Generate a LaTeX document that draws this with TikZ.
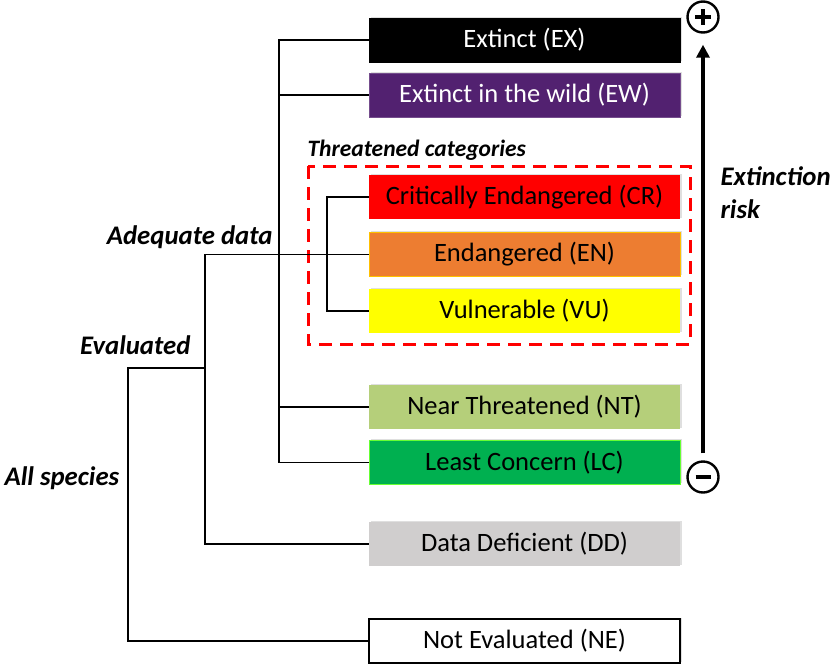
\documentclass[tikz,border=0pt]{standalone}
\usepackage{fontspec}
\setmainfont{Carlito}
\usetikzlibrary{arrows.meta,shadows,calc}

\definecolor{exblack}{RGB}{0,0,0}
\definecolor{ewpurple}{RGB}{82,33,112}
\definecolor{crred}{RGB}{255,0,0}
\definecolor{enorange}{RGB}{237,125,49}
\definecolor{enborder}{RGB}{255,192,0}
\definecolor{vuyellow}{RGB}{255,255,0}
\definecolor{ntgreen}{RGB}{181,207,122}
\definecolor{lcgreen}{RGB}{0,176,80}
\definecolor{lcborder}{RGB}{102,255,51}
\definecolor{ddgrey}{RGB}{208,206,206}

\tikzset{
  catbox/.style={minimum width=311pt, minimum height=44pt, inner sep=0pt,
    font=\fontsize{26.5}{30}\selectfont,
    drop shadow={opacity=0.25, shadow xshift=1.5pt, shadow yshift=1.5pt}},
  branch/.style={line width=1.8pt},
  grouplabel/.style={font=\fontsize{26.8}{33}\selectfont\bfseries\itshape},
  signcircle/.style={circle, draw, line width=2.4pt, minimum size=31pt, inner sep=0pt}
}

\begin{document}
\begin{tikzpicture}[x=1pt, y=-1pt]
    \useasboundingbox (0,0) rectangle (830,664);

    % categories
    \node[catbox, fill=exblack, draw=exblack, text=white] (ex) at (524.5,40) {Extinct (EX)};
    \node[catbox, fill=ewpurple, draw=ewpurple!80!white, text=white] (ew) at (524.5,95) {Extinct in the wild (EW)};
    \node[catbox, fill=crred] (cr) at (524.5,197) {Critically Endangered (CR)};
    \node[catbox, fill=enorange, draw=enborder] (en) at (524.5,254.5) {Endangered (EN)};
    \node[catbox, fill=vuyellow] (vu) at (524.5,311) {Vulnerable (VU)};
    \node[catbox, fill=ntgreen] (nt) at (524.5,407) {Near Threatened (NT)};
    \node[catbox, fill=lcgreen, draw=lcborder] (lc) at (524.5,462.5) {Least Concern (LC)};
    \node[catbox, fill=ddgrey] (dd) at (524.5,544) {Data Deficient (DD)};
    \node[catbox, fill=white, draw=black, line width=1.2pt] (ne) at (524.5,641) {Not Evaluated (NE)};

    % threatened group
    \draw[red, line width=3pt, dash pattern=on 13pt off 8pt] (308,166) rectangle (690,344);
    \node[grouplabel, font=\fontsize{23.5}{28}\selectfont\bfseries\itshape, anchor=west] (thr) at (304,150) {Threatened categories};

    % tree
    \draw[branch] (cr.west) -- ++(-42,0) coordinate (thrx) |- (vu.west);
    \draw[branch] (ex.west) -- ++(-90,0) coordinate (adqx) |- (lc.west);
    \draw[branch] (ew.west) -- (ew.west -| adqx);
    \draw[branch] (nt.west) -- (nt.west -| adqx);
    \draw[branch] (en.west) -- ++(-164,0) coordinate (evx) |- (dd.west);
    \coordinate (allx) at (128,368);
    \draw[branch] (evx |- allx) -- (allx) |- (ne.west);

    \node[grouplabel, anchor=east] (adq) at (276,237) {Adequate data};
    \node[grouplabel, anchor=east] (ev) at (194,345) {Evaluated};
    \node[grouplabel, anchor=west] (all) at (1,478) {All species};

    % risk axis
    \node[signcircle] (plus) at (703,17) {};
    \node[signcircle] (minus) at (703,477) {};
    \draw[line width=3.2pt] ($(plus.center)+(-8,0)$) -- ($(plus.center)+(8,0)$);
    \draw[line width=3.2pt] ($(plus.center)+(0,-8)$) -- ($(plus.center)+(0,8)$);
    \draw[line width=4pt] ($(minus.center)+(-7.5,0)$) -- ($(minus.center)+(7.5,0)$);
    \draw[line width=4pt, -{Triangle[length=13pt,width=13pt]}] (minus.north) ++(0,-7) -- ($(plus.south)+(0,11)$);
    \node[grouplabel, align=left, anchor=west] (risk) at (717,176) {Extinction};
    \node[grouplabel, anchor=west] (risk2) at (717,209) {risk};
\end{tikzpicture}
\end{document}
